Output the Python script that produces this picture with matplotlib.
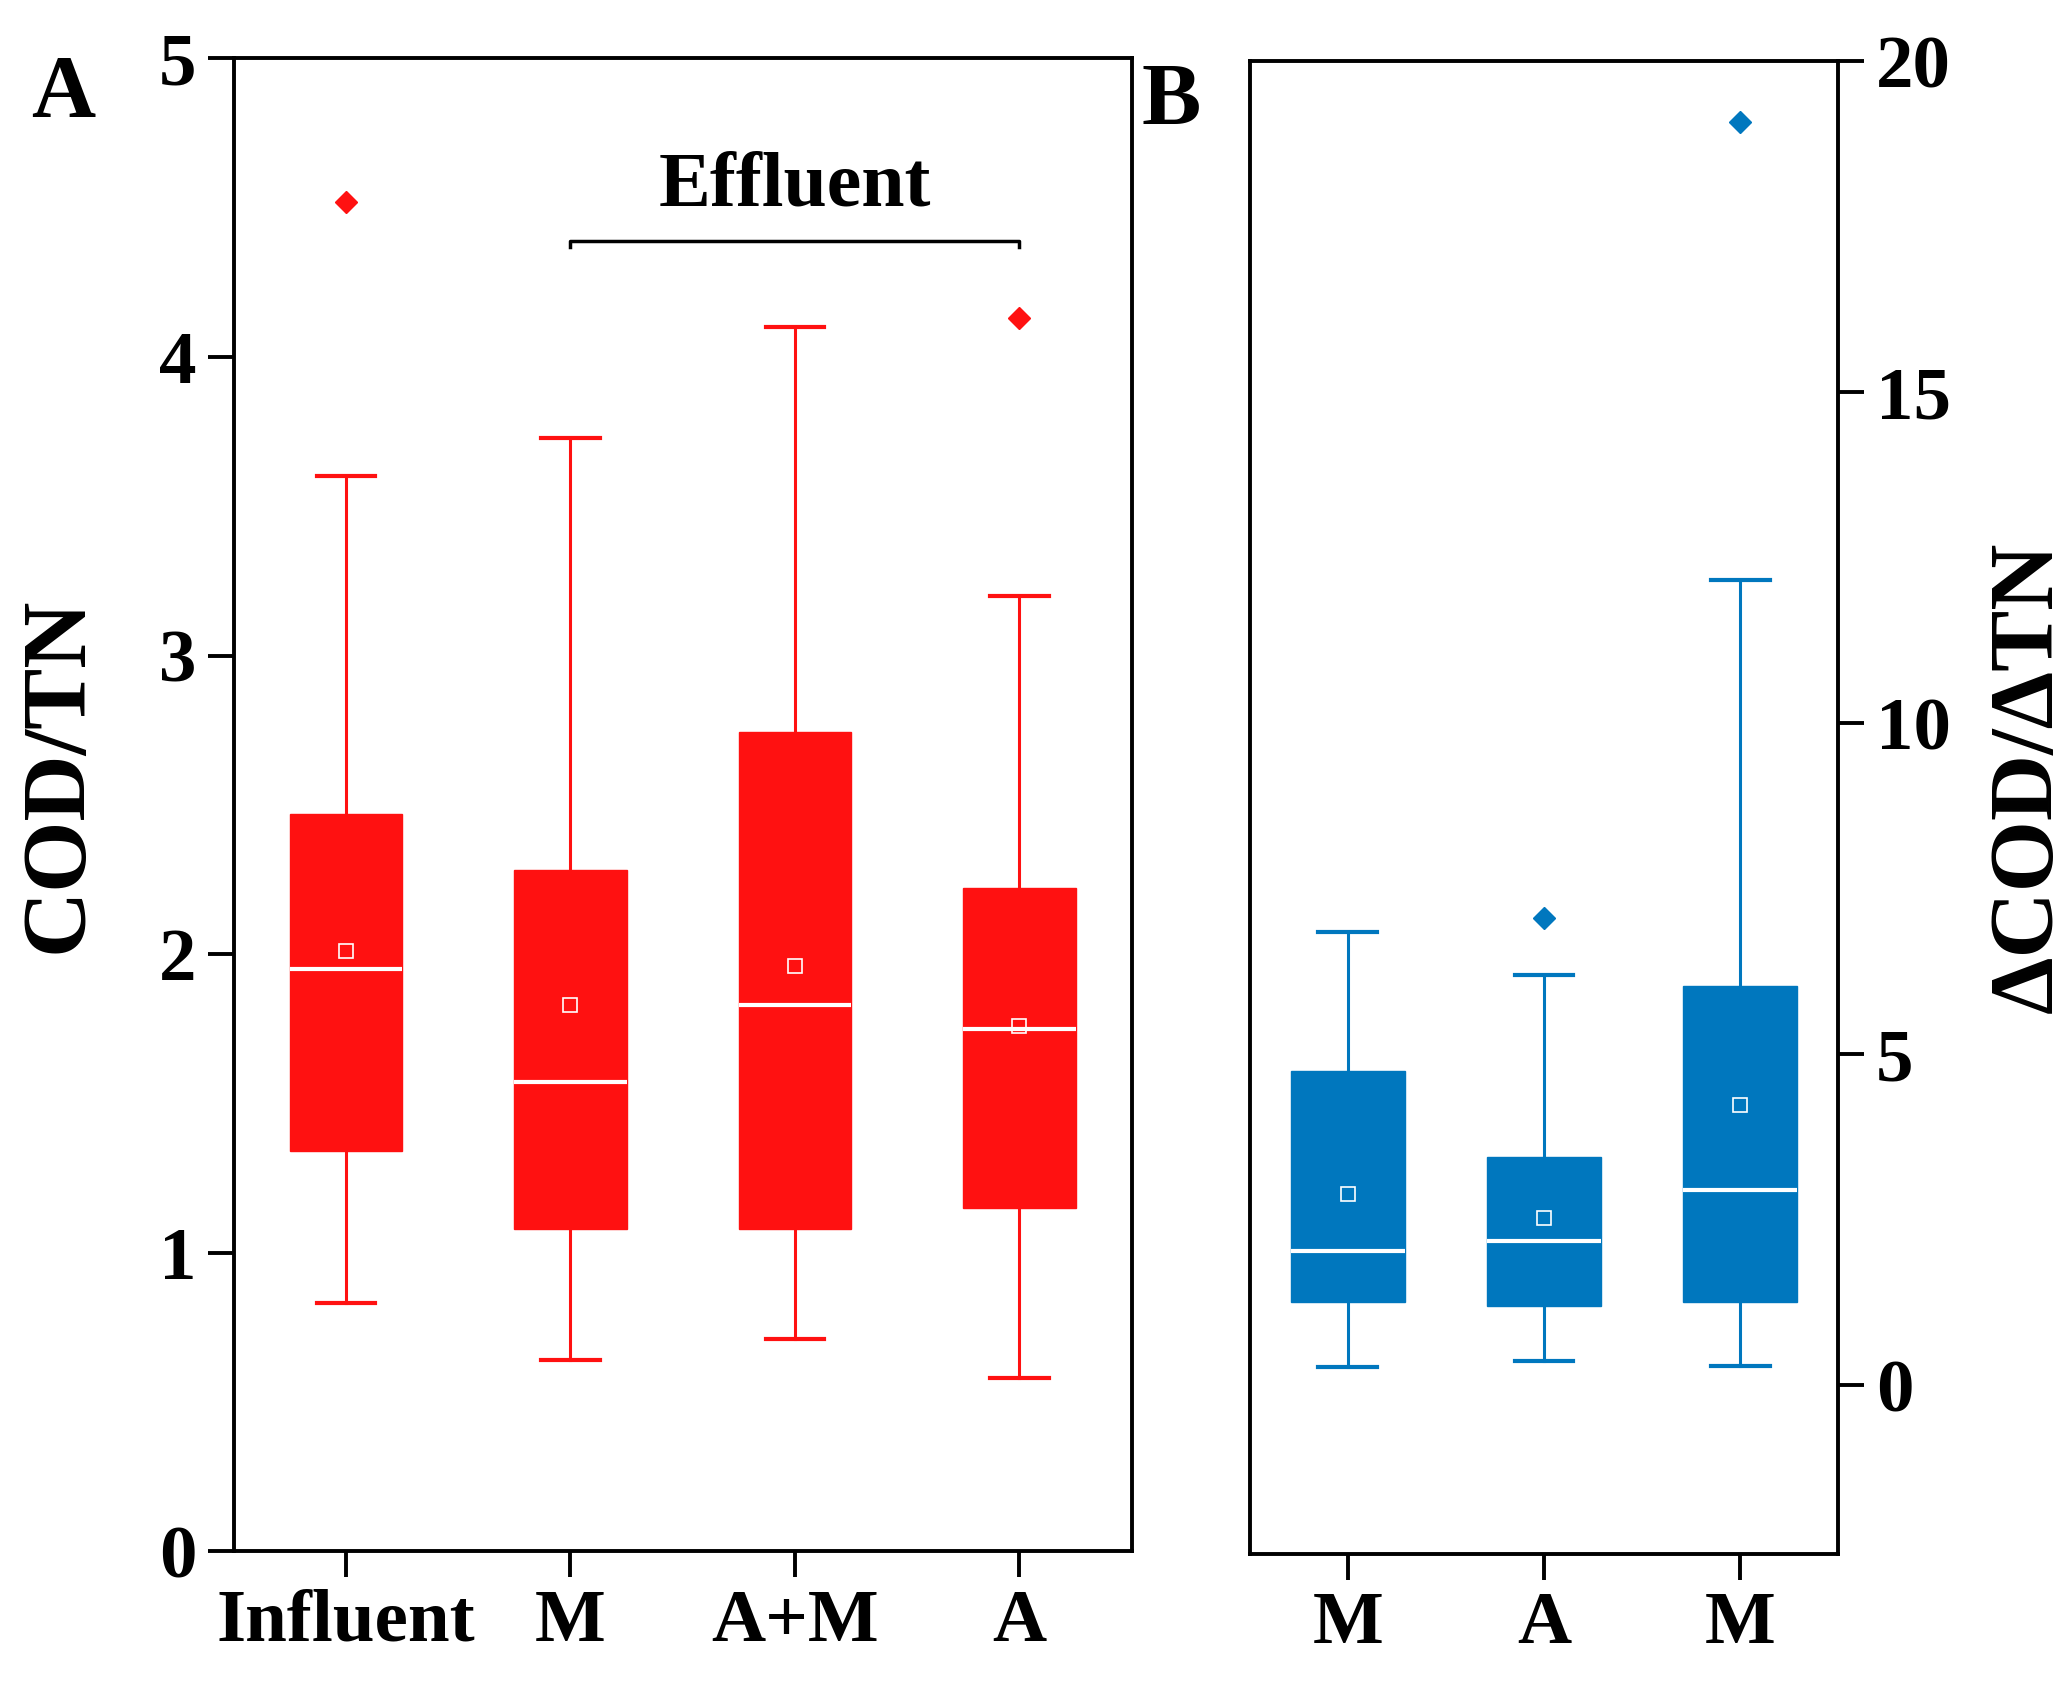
import matplotlib
matplotlib.use("Agg")
import matplotlib.pyplot as plt

plt.rcParams['font.family'] = ['Liberation Serif', 'DejaVu Serif']
plt.rcParams['font.weight'] = 'bold'

# Panel A: COD/TN
labels_a = ["Influent", "M", "A+M", "A"]
low_a = [0.83, 0.64, 0.71, 0.58]
q1_a = [1.34, 1.08, 1.08, 1.15]
med_a = [1.95, 1.57, 1.83, 1.75]
mean_a = [2.01, 1.83, 1.96, 1.76]
q3_a = [2.47, 2.28, 2.745, 2.22]
high_a = [3.60, 3.73, 4.10, 3.20]
fliers_a = [[4.52], [], [], [4.13]]

# Panel B: dCOD/dTN
labels_b = ["M", "A", "M"]
low_b = [0.27, 0.37, 0.28]
q1_b = [1.26, 1.20, 1.26]
med_b = [2.02, 2.18, 2.95]
mean_b = [2.89, 2.53, 4.23]
q3_b = [4.75, 3.45, 6.03]
high_b = [6.85, 6.19, 12.16]
fliers_b = [[], [7.05], [19.08]]

red = "#FF1111"
blue = "#0077BE"


def make_stats(low, q1, med, mean, q3, high, fliers):
    out = []
    for i in range(len(low)):
        out.append(dict(whislo=low[i], q1=q1[i], med=med[i], mean=mean[i],
                        q3=q3[i], whishi=high[i], fliers=fliers[i]))
    return out


def draw(ax, stats, color, width, capw):
    ax.bxp(stats, widths=width, patch_artist=True, showmeans=True,
           showfliers=True, capwidths=capw,
           boxprops=dict(facecolor=color, edgecolor=color, linewidth=1),
           medianprops=dict(color="white", linewidth=3),
           whiskerprops=dict(color=color, linewidth=2.2),
           capprops=dict(color=color, linewidth=3),
           meanprops=dict(marker="s", markerfacecolor="none",
                          markeredgecolor="white", markersize=10,
                          markeredgewidth=1.2),
           flierprops=dict(marker="D", markerfacecolor=color,
                           markeredgecolor=color, markersize=11))


fig = plt.figure(figsize=(20.72, 16.84), dpi=100)

ax1 = fig.add_axes([0.1128, 0.0789, 0.4334, 0.8864])
draw(ax1, make_stats(low_a, q1_a, med_a, mean_a, q3_a, high_a, fliers_a),
     red, 0.5, 0.26)
ax1.set_xlim(0.5, 4.5)
ax1.set_ylim(0, 5)
ax1.set_yticks([0, 1, 2, 3, 4, 5])
ax1.set_xticks([1, 2, 3, 4])
ax1.set_xticklabels(labels_a)
ax1.set_ylabel("COD/TN", fontsize=66, fontweight="bold")
ax1.yaxis.set_label_coords(-0.148, 0.52)

# Effluent bracket
ax1.plot([2, 2, 4, 4], [4.37, 4.39, 4.39, 4.37], color="black", lw=2.5)
ax1.text(3, 4.45, "Effluent", ha="center", va="bottom", fontsize=56,
         fontweight="bold")

ax2 = fig.add_axes([0.6032, 0.0773, 0.2840, 0.8864])
draw(ax2, make_stats(low_b, q1_b, med_b, mean_b, q3_b, high_b, fliers_b),
     blue, 0.58, 0.3)
ax2.set_xlim(0.5, 3.5)
ax2.set_ylim(-2.55, 20)
ax2.set_yticks([0, 5, 10, 15, 20])
ax2.set_xticks([1, 2, 3])
ax2.set_xticklabels(labels_b)
ax2.yaxis.tick_right()
ax2.yaxis.set_label_position("right")
ax2.set_ylabel("\u0394COD/\u0394TN", fontsize=66, fontweight="bold",
               rotation=90)
ax2.yaxis.set_label_coords(1.255, 0.52)

for ax in (ax1, ax2):
    for s in ax.spines.values():
        s.set_linewidth(2.8)
    ax.tick_params(axis="both", direction="out", length=19, width=2.8,
                   labelsize=54, pad=8)
    for lab in ax.get_xticklabels() + ax.get_yticklabels():
        lab.set_fontweight("bold")

fig.text(0.015, 0.968, "A", fontsize=64, fontweight="bold", va="top")
fig.text(0.551, 0.963, "B", fontsize=64, fontweight="bold", va="top")

fig.savefig("out.png", dpi=100)
